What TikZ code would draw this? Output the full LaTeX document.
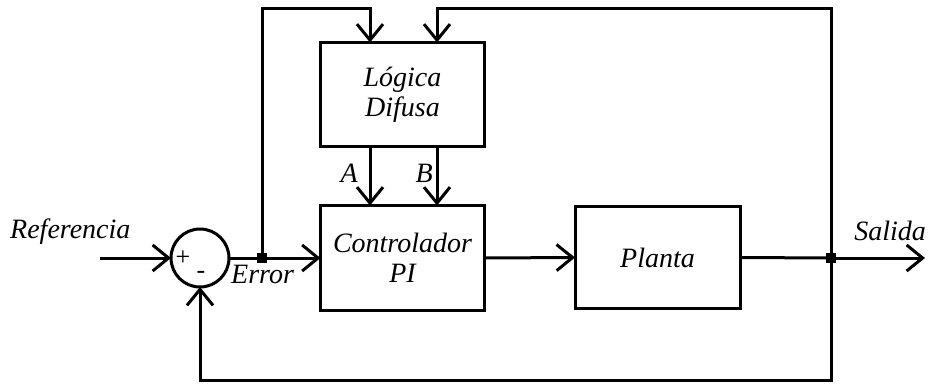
\documentclass[tikz,border=0pt]{standalone}
\usepackage{fontspec}
\setmainfont{Liberation Serif}
\usetikzlibrary{arrows.meta}

\tikzset{
	bloque/.style={draw, line width=3pt, inner sep=0pt, outer sep=0pt, align=center, font=\fontsize{28}{30}\selectfont\itshape},
	sumador/.style={draw, circle, line width=3pt, inner sep=0pt, outer sep=0pt, minimum size=58pt},
	flecha/.style={line width=3pt, -{Straight Barb[length=16pt,width=26pt]}},
	linea/.style={line width=3pt},
	punto/.style={fill, inner sep=0pt, minimum size=10pt},
	etiqueta/.style={inner sep=0pt, font=\fontsize{28}{30}\selectfont\itshape},
	signo/.style={inner sep=0pt, font=\fontsize{26}{26}\selectfont}
}

\begin{document}
\begin{tikzpicture}[x=1pt, y=-1pt]
	\useasboundingbox (0,0) rectangle (928,383);

	\node[sumador] (suma) at (200,258) {};
	\node[bloque, minimum width=164pt, minimum height=104pt] (logica) at (402.5,94.5) {L\'ogica\\Difusa};
	\node[bloque, minimum width=164pt, minimum height=105pt] (ctrl) at (402.5,258) {Controlador\\PI};
	\node[bloque, minimum width=165pt, minimum height=102pt] (planta) at (657.5,257.5) {Planta};

	\coordinate (ref) at (100,258);
	\coordinate (sal) at (925,258);
	\coordinate (j1) at (262,258);
	\coordinate (j2) at (831,258);
	\coordinate (t1) at (370,8);
	\coordinate (t2) at (437,8);
	\coordinate (fb) at (200,380);

	\node[signo] (mas) at (183,258) {+};
	\node[signo] (menos) at (201,275) {-};

	\draw[flecha] (ref) -- (suma.west);
	\draw[linea] (suma.east) -- (j1);
	\draw[flecha] (j1) -- (ctrl.west);
	\draw[flecha] (j1) |- (t1) -- (t1 |- logica.north);
	\draw[flecha] (j2) |- (t2) -- (t2 |- logica.north);
	\draw[flecha] (t1 |- logica.south) -- (t1 |- ctrl.north);
	\draw[flecha] (t2 |- logica.south) -- (t2 |- ctrl.north);
	\draw[flecha] (ctrl.east) -- (planta.west);
	\draw[linea] (planta.east) -- (j2);
	\draw[flecha] (j2) -- (sal);
	\draw[flecha] (j2) |- (fb) -- (suma.south);

	\node[punto] (p1) at (j1) {};
	\node[punto] (p2) at (j2) {};

	\node[etiqueta, anchor=base west] (lref) at (10,238) {Referencia};
	\node[etiqueta, anchor=base west] (lerr) at (231,283) {Error};
	\node[etiqueta, anchor=base east] (lsal) at (926,240) {Salida};
	\node[etiqueta, anchor=base east] (la) at (358,182) {A};
	\node[etiqueta, anchor=base east] (lb) at (433,182) {B};
\end{tikzpicture}
\end{document}
